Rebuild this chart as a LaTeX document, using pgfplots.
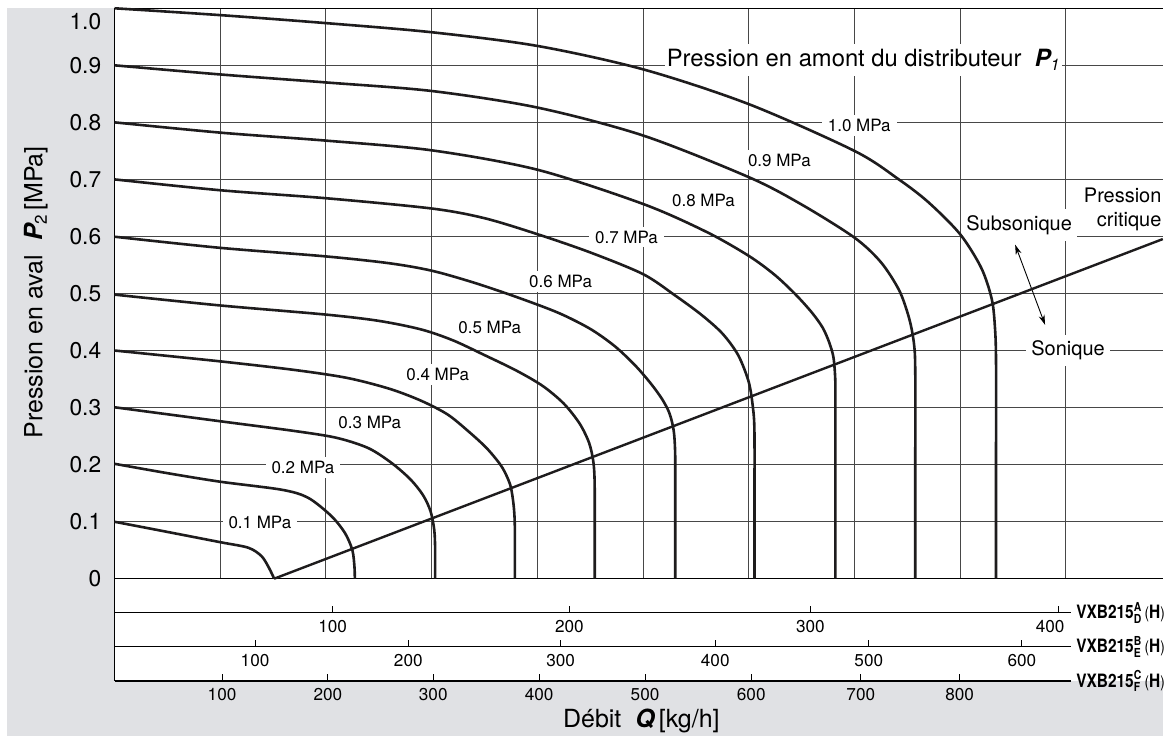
\documentclass[border=0pt]{standalone}
\usepackage{pgfplots}
\pgfplotsset{compat=1.18}
\usepackage{fontspec}
\setmainfont{TeX Gyre Heros}
\usepackage{graphicx}
\usetikzlibrary{arrows.meta}
\definecolor{bggray}{RGB}{224,225,228}
\definecolor{ink}{RGB}{30,28,29}
\tikzset{mpa/.style={fill=white, inner xsep=3pt, inner ysep=2pt, font=\fontsize{8.5}{10}\selectfont}}
\pgfplotsset{crv/.style={line width=1.3pt, color=ink, smooth, tension=0.5, no marks}}
\newcommand{\vxb}[2]{\scalebox{0.84}[1]{\fontsize{9.2}{10}\selectfont\bfseries VXB215$^{\mbox{\fontsize{6.2}{6}\selectfont\bfseries #1}}_{\mbox{\fontsize{6.2}{6}\selectfont\bfseries #2}}$\,{\fontsize{8}{8}\selectfont\mdseries(}H{\fontsize{8}{8}\selectfont\mdseries)}}}
\begin{document}
\begin{tikzpicture}
\begin{scope}[x=0.5pt,y=0.5pt]
\path[use as bounding box] (0,0) rectangle (1164,744);
\fill[white] (0,0) rectangle (1164,744);
\fill[bggray] (7,7) rectangle (1164,735.7);
\fill[white] (114.7,62.3) rectangle (1164,735.7);
\draw[line width=0.6pt] (114.7,62.3) -- (114.7,164.7);
\node[anchor=east,inner sep=0pt,font=\fontsize{11.4}{13}\selectfont] at (101.7,722) {1.0};
\node[rotate=90,inner sep=0pt,font=\fontsize{12.5}{14}\selectfont] at (36,451.5) {Pression en aval\ \ {\bfseries\itshape P}\raisebox{-0.35ex}{\fontsize{8.5}{8}\selectfont 2}\,[MPa]};
\node[inner sep=0pt,font=\fontsize{12.5}{14}\selectfont] at (642,22) {Débit\ \ {\bfseries\itshape Q}\,[kg/h]};
\node[anchor=west,inner sep=0pt] at (1077,130.7) {\vxb{A}{D}};
\node[anchor=west,inner sep=0pt] at (1077,96.7) {\vxb{B}{E}};
\node[anchor=west,inner sep=0pt] at (1077,62.3) {\vxb{C}{F}};
\end{scope}

% lower scales
\pgfplotsset{subscale/.style={
  scale only axis, width=478.5pt, height=10pt, anchor=south west,
  xmin=114.7, xmax=1071.7, ymin=0, ymax=1,
  axis x line*=bottom, axis y line=none,
  x axis line style={-, line width=0.55pt, black},
  every outer x axis line/.append style={-},
  tick align=inside, major tick length=3.5pt,
  tick style={line width=0.5pt, black},
  xticklabel style={font=\fontsize{8.6}{10}\selectfont, inner sep=0pt, anchor=north, yshift=-3.6pt},
}}
\begin{axis}[subscale, at={(57.35pt,65.35pt)},
  xtick={333,570,811.3,1059.3}, xticklabels={100,200,300,{\kern-8pt 400}}]
\end{axis}
\begin{axis}[subscale, at={(57.35pt,48.35pt)},
  xtick={255.3,408.7,561.3,716,869.7,1023}, xticklabels={100,200,300,400,500,600}]
\end{axis}
\begin{axis}[subscale, at={(57.35pt,31.15pt)},
  xtick={222.3,328.3,433.7,539.7,645.7,752,861.7,960.7}, xticklabels={100,200,300,400,500,600,700,800}]
\end{axis}

\begin{axis}[
  at={(57.35pt,82.35pt)}, anchor=south west, scale only axis,
  width=524.65pt, height=285.5pt,
  xmin=0, xmax=991.8, ymin=0, ymax=1,
  clip=false,
  axis x line*=box, axis y line*=left,
  axis line style={-, line width=0.6pt, black},
  every outer x axis line/.append style={-},
  every outer y axis line/.append style={-},
  xtick={100,200,300,400,500,600,700,800,900}, xticklabels={},
  ytick={0,0.1,0.2,0.3,0.4,0.5,0.6,0.7,0.8,0.9},
  yticklabels={0,0.1,0.2,0.3,0.4,0.5,0.6,0.7,0.8,0.9},
  major tick length=0pt,
  grid=major, major grid style={line width=0.5pt, black!72},
  yticklabel style={font=\fontsize{11.4}{13}\selectfont, inner sep=0pt, xshift=-6.5pt},
]
\node[mpa] at (axis cs:137.5,0.098) {0.1 MPa};
\node[mpa] at (axis cs:178.2,0.195) {0.2 MPa};
\node[mpa] at (axis cs:241.5,0.274) {0.3 MPa};
\node[mpa] at (axis cs:305.8,0.358) {0.4 MPa};
\node[mpa] at (axis cs:355,0.4406) {0.5 MPa};
\node[mpa] at (axis cs:422,0.5207) {0.6 MPa};
\node[mpa] at (axis cs:484.4,0.599) {0.7 MPa};
\node[mpa] at (axis cs:557.2,0.6625) {0.8 MPa};
\node[mpa] at (axis cs:629,0.734) {0.9 MPa};
\node[mpa] at (axis cs:704.6,0.795) {1.0 MPa};
\node[anchor=base west, fill=white, inner xsep=1pt, inner ysep=2.5pt, font=\fontsize{11.9}{13}\selectfont] at (axis cs:520.3,0.8984) {Pression en amont du distributeur\ \ {\bfseries\itshape P}\raisebox{-0.35ex}{\fontsize{8}{8}\selectfont\itshape 1}};
\node[fill=white, inner xsep=2.5pt, inner ysep=3pt, font=\fontsize{10}{12}\selectfont] at (axis cs:855.9,0.620) {Subsonique};
\node[fill=white, inner xsep=2.5pt, inner ysep=3pt, font=\fontsize{10}{12}\selectfont] at (axis cs:902.2,0.4003) {Sonique};
\node[anchor=east, align=right, inner sep=0pt, font=\fontsize{10}{12}\selectfont] at (axis cs:990.9,0.647) {Pression\\critique};
\draw[line width=0.45pt, {Stealth[length=5pt,width=3pt]}-{Stealth[length=5pt,width=3pt]}] (axis cs:852.1,0.5855) -- (axis cs:880.4,0.445);

% critical pressure line
\addplot[line width=1.2pt, color=ink] coordinates {(151,0) (991.8,0.5954)};
% P1 = 0.1
\addplot[crv] coordinates {(0,0.0998) (50,0.082) (100,0.064) (126.5,0.0543) (139,0.0396) (146,0.0193) (151,0)};
% P1 = 0.2
\addplot[crv] coordinates {(0,0.2014) (50,0.185) (100,0.170) (158,0.156) (183,0.142) (205,0.11) (218,0.08) (225,0.05) (227,0.02) (227.3,0)};
% P1 = 0.3
\addplot[crv] coordinates {(0,0.3005) (100,0.276) (170,0.259) (210,0.247) (240,0.229) (262,0.203) (280,0.174) (292,0.146) (299,0.118) (302.5,0.085) (303.3,0.05) (303.3,0)};
% P1 = 0.4
\addplot[crv] coordinates {(0,0.4) (100,0.381) (170,0.366) (220,0.352) (260,0.333) (290,0.312) (315,0.288) (335,0.258) (352,0.229) (365,0.2) (371,0.18) (375,0.16) (377.5,0.13) (378.6,0.1) (378.8,0.05) (378.8,0)};
% P1 = 0.5
\addplot[crv] coordinates {(0,0.498) (100,0.479) (200,0.463) (250,0.452) (290,0.437) (320,0.418) (350,0.392) (380,0.365) (405,0.338) (425,0.307) (440,0.272) (449,0.238) (453,0.205) (454.2,0.17) (454.3,0.1) (454.3,0)};
% P1 = 0.6
\addplot[crv] coordinates {(0,0.5995) (100,0.580) (200,0.565) (260,0.553) (300,0.540) (340,0.519) (380,0.494) (420,0.466) (450,0.438) (473,0.408) (492,0.375) (507,0.343) (518,0.315) (525,0.29) (529,0.26) (530.4,0.22) (530.5,0.15) (530.5,0)};
% P1 = 0.7
\addplot[crv] coordinates {(0,0.7) (100,0.681) (200,0.667) (300,0.649) (350,0.632) (400,0.604) (450,0.572) (500,0.534) (530,0.497) (555,0.463) (575,0.43) (590,0.392) (600,0.345) (604,0.30) (605.4,0.26) (605.5,0.15) (605.5,0)};
% P1 = 0.8
\addplot[crv] coordinates {(0,0.8) (100,0.782) (200,0.768) (300,0.751) (400,0.717) (500,0.657) (560,0.608) (600,0.566) (625,0.532) (645,0.497) (660,0.466) (670,0.44) (676,0.415) (680,0.39) (681.6,0.36) (682,0.33) (682,0.2) (682,0)};
% P1 = 0.9
\addplot[crv] coordinates {(0,0.9) (100,0.884) (200,0.870) (300,0.855) (400,0.826) (500,0.777) (600,0.704) (650,0.656) (700,0.598) (725,0.555) (742.5,0.505) (752,0.455) (756.5,0.41) (757.6,0.36) (757.6,0.2) (757.6,0)};
% P1 = 1.0
\addplot[crv] coordinates {(0,1.0) (100,0.988) (200,0.974) (300,0.958) (400,0.934) (500,0.893) (600,0.832) (700,0.750) (742,0.700) (770,0.660) (800,0.604) (820,0.545) (830,0.49) (833,0.44) (834,0.38) (834,0.2) (834,0)};
\end{axis}
\end{tikzpicture}
\end{document}
